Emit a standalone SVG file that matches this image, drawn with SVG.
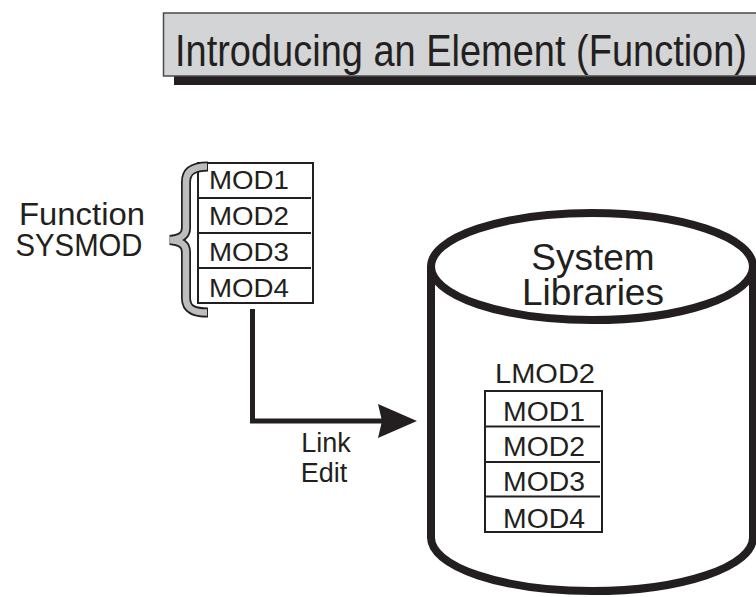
<svg xmlns="http://www.w3.org/2000/svg" width="756" height="597" viewBox="0 0 756 597">
  <defs>
    <style>
      .t { font-family: "Liberation Sans", Arial, Helvetica, sans-serif; fill: #231f20; }
      .box { fill: #ffffff; stroke: #231f20; stroke-width: 2; }
      .row { stroke: #231f20; stroke-width: 2; }
      .conn { fill: none; stroke: #231f20; stroke-width: 5; stroke-linejoin: miter; }
    </style>
    <marker id="arrow" markerUnits="userSpaceOnUse" markerWidth="40" markerHeight="34" viewBox="0 0 40 34" refX="7" refY="17" orient="auto">
      <path d="M0,0 L39,17 L0,34 L4,17 Z" fill="#231f20"/>
    </marker>
  </defs>
  <rect width="756" height="597" fill="#ffffff"/>

  <g id="title">
    <rect x="174" y="70" width="600" height="15" fill="#231f20"/>
    <rect x="163.5" y="13" width="600" height="63" fill="#d3d4d6" stroke="#4a4a4a" stroke-width="1.5"/>
    <text class="t" x="175" y="65.5" font-size="45" textLength="572" lengthAdjust="spacingAndGlyphs">Introducing an Element (Function)</text>
  </g>

  <g id="function-sysmod-label">
    <text class="t" x="82" y="225" font-size="31.5" text-anchor="middle" textLength="126" lengthAdjust="spacingAndGlyphs">Function</text>
    <text class="t" x="79" y="256" font-size="31.5" text-anchor="middle" textLength="127" lengthAdjust="spacingAndGlyphs">SYSMOD</text>
  </g>

  <g id="sysmod">
    <rect class="box" x="198" y="163" width="115" height="140"/>
    <line class="row" x1="198" y1="198" x2="311" y2="198"/>
    <line class="row" x1="198" y1="233" x2="311" y2="233"/>
    <line class="row" x1="198" y1="268" x2="311" y2="268"/>
    <text class="t" x="209" y="189" font-size="26.5" textLength="80" lengthAdjust="spacingAndGlyphs">MOD1</text>
    <text class="t" x="209" y="225" font-size="26.5" textLength="80" lengthAdjust="spacingAndGlyphs">MOD2</text>
    <text class="t" x="209" y="261" font-size="26.5" textLength="80" lengthAdjust="spacingAndGlyphs">MOD3</text>
    <text class="t" x="209" y="297" font-size="26.5" textLength="80" lengthAdjust="spacingAndGlyphs">MOD4</text>
  </g>

  <g id="brace">
    <path d="M208,166.5 C195,166.5 186,170 186,182 L186,228 C186,236 180,239 170,240 C180,241 186,244 186,252 L186,298 C186,310 195,312.5 208,312.5" fill="none" stroke="#231f20" stroke-width="10"/>
    <path d="M207,166.5 C195,166.5 186,170 186,182 L186,228 C186,236 180,239 170,240 C180,241 186,244 186,252 L186,298 C186,310 195,312.5 207,312.5" fill="none" stroke="#bdbdbd" stroke-width="6.5"/>
  </g>

  <g id="system-libraries">
    <path d="M431,266.5 V537.5 A161,53.5 0 0 0 753,537.5 V266.5" fill="#ffffff" stroke="#231f20" stroke-width="8"/>
    <ellipse cx="592" cy="266.5" rx="161" ry="53.5" fill="#ffffff" stroke="#231f20" stroke-width="8"/>
    <text class="t" x="593" y="270" font-size="37" text-anchor="middle">System</text>
    <text class="t" x="593" y="305" font-size="37" text-anchor="middle">Libraries</text>
  </g>

  <g id="lmod2">
    <text class="t" x="495" y="383" font-size="27" textLength="100" lengthAdjust="spacingAndGlyphs">LMOD2</text>
    <rect class="box" x="485" y="391" width="117" height="141"/>
    <line class="row" x1="485" y1="426.5" x2="600" y2="426.5"/>
    <line class="row" x1="485" y1="462" x2="600" y2="462"/>
    <line class="row" x1="485" y1="496.5" x2="600" y2="496.5"/>
    <text class="t" x="503" y="420.5" font-size="27" textLength="82" lengthAdjust="spacingAndGlyphs">MOD1</text>
    <text class="t" x="503" y="455.5" font-size="27" textLength="82" lengthAdjust="spacingAndGlyphs">MOD2</text>
    <text class="t" x="503" y="491" font-size="27" textLength="82" lengthAdjust="spacingAndGlyphs">MOD3</text>
    <text class="t" x="503" y="528" font-size="27" textLength="82" lengthAdjust="spacingAndGlyphs">MOD4</text>
  </g>

  <g id="connectors">
    <path class="conn" d="M252.5,309 V421 H385" marker-end="url(#arrow)"/>
    <text class="t" x="326" y="452" font-size="27" text-anchor="middle">Link</text>
    <text class="t" x="324" y="482" font-size="27" text-anchor="middle">Edit</text>
  </g>
</svg>
